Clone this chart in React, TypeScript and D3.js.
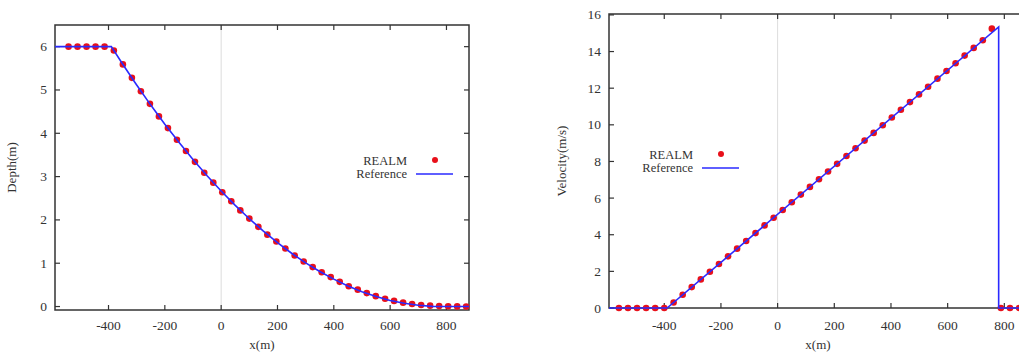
import { useEffect, useRef } from 'react';
import * as d3 from 'd3';

// REALM depth samples (left panel)
const depthX = [-542, -510, -478, -446, -414, -381, -349, -317, -285, -253, -221, -189, -157, -125, -93, -60, -28, 4, 36, 68, 100, 132, 164, 196, 228, 261, 293, 325, 357, 389, 421, 453, 485, 517, 549, 582, 614, 646, 678, 710, 742, 774, 806, 838, 870];
const depthH = [6, 6, 6, 6, 6, 5.91, 5.59, 5.28, 4.97, 4.68, 4.39, 4.12, 3.85, 3.59, 3.34, 3.09, 2.86, 2.64, 2.43, 2.22, 2.03, 1.84, 1.66, 1.5, 1.34, 1.18, 1.04, 0.91, 0.79, 0.68, 0.57, 0.47, 0.39, 0.31, 0.24, 0.18, 0.13, 0.09, 0.06, 0.035, 0.02, 0.01, 0.005, 0.003, 0.002];

// analytic reference depth
const depthRefX = [-590, -390, -350, -300, -250, -200, -150, -100, -50, 0, 50, 100, 150, 200, 250, 300, 350, 400, 450, 500, 550, 600, 650, 700, 750, 780, 880];
const depthRefH = [6, 6, 5.6, 5.115, 4.651, 4.211, 3.792, 3.395, 3.02, 2.667, 2.336, 2.026, 1.739, 1.474, 1.23, 1.009, 0.809, 0.632, 0.476, 0.343, 0.231, 0.141, 0.074, 0.028, 0.004, 0, 0];

// REALM velocity samples (right panel)
const velX = [-560, -528, -496, -464, -432, -400, -367, -335, -303, -271, -239, -207, -175, -143, -111, -78, -46, -14, 18, 50, 82, 114, 146, 178, 210, 243, 275, 307, 339, 371, 403, 435, 467, 499, 531, 564, 596, 628, 660, 692, 724, 756, 788, 820, 852];
const velV = [0, 0, 0, 0, 0, 0, 0.3, 0.72, 1.14, 1.56, 1.98, 2.4, 2.82, 3.24, 3.66, 4.09, 4.51, 4.93, 5.35, 5.77, 6.19, 6.61, 7.03, 7.45, 7.87, 8.3, 8.72, 9.14, 9.56, 9.98, 10.4, 10.82, 11.24, 11.66, 12.08, 12.52, 12.94, 13.36, 13.78, 14.2, 14.62, 15.25, 0, 0, 0];

// analytic reference velocity
const velRefX = [-595, -390, 780, 780, 880];
const velRefV = [0, 0, 15.34, 0, 0];

const xTicks = [-400, -200, 0, 200, 400, 600, 800];
const depthTicks = [0, 1, 2, 3, 4, 5, 6];
const velTicks = [0, 2, 4, 6, 8, 10, 12, 14, 16];

const FONT = '"Liberation Serif", "Times New Roman", Times, serif';
const INK = '#333';

interface Panel {
    left: number; right: number; top: number; bottom: number;
    xDomain: [number, number]; yDomain: [number, number];
    yTicks: number[]; yLabel: string; yLabelX: number;
    px: number[]; py: number[]; rx: number[]; ry: number[];
    legendX: number; legendY: number;
}

const App = () => {
    const ref = useRef<SVGSVGElement>(null);

    useEffect(() => {
        document.body.style.margin = '0';
        if (!ref.current) return;
        const svg = d3.select(ref.current);
        svg.selectAll('*').remove();

        const panels: Panel[] = [
            {
                left: 55, right: 469, top: 25, bottom: 310,
                xDomain: [-590, 880], yDomain: [-0.08, 6.5],
                yTicks: depthTicks, yLabel: 'Depth(m)', yLabelX: 16,
                px: depthX, py: depthH, rx: depthRefX, ry: depthRefH,
                legendX: 407, legendY: 161,
            },
            {
                left: 609, right: 1027, top: 14, bottom: 308,
                xDomain: [-595, 880], yDomain: [0, 16.05],
                yTicks: velTicks, yLabel: 'Velocity(m/s)', yLabelX: 566,
                px: velX, py: velV, rx: velRefX, ry: velRefV,
                legendX: 693, legendY: 155,
            },
        ];

        panels.forEach(p => {
            const x = d3.scaleLinear().domain(p.xDomain).range([p.left, p.right]);
            const y = d3.scaleLinear().domain(p.yDomain).range([p.bottom, p.top]);
            const g = svg.append('g');

            // zero line
            g.append('line')
                .attr('x1', x(0)).attr('x2', x(0))
                .attr('y1', p.top).attr('y2', p.bottom)
                .attr('stroke', '#ddd').attr('stroke-width', 1);

            // frame
            g.append('rect')
                .attr('x', p.left).attr('y', p.top)
                .attr('width', p.right - p.left).attr('height', p.bottom - p.top)
                .attr('fill', 'none').attr('stroke', INK).attr('stroke-width', 1.5);

            // x ticks, inward on both sides
            xTicks.forEach(t => {
                g.append('line').attr('x1', x(t)).attr('x2', x(t))
                    .attr('y1', p.bottom).attr('y2', p.bottom - 5)
                    .attr('stroke', INK).attr('stroke-width', 1.2);
                g.append('line').attr('x1', x(t)).attr('x2', x(t))
                    .attr('y1', p.top).attr('y2', p.top + 5)
                    .attr('stroke', INK).attr('stroke-width', 1.2);
                g.append('text')
                    .attr('x', x(t)).attr('y', 330)
                    .attr('text-anchor', 'middle')
                    .style('font-family', FONT).style('font-size', '13.5px').attr('fill', INK)
                    .text(t);
            });

            // y ticks
            p.yTicks.forEach(t => {
                g.append('line').attr('x1', p.left).attr('x2', p.left + 5)
                    .attr('y1', y(t)).attr('y2', y(t))
                    .attr('stroke', INK).attr('stroke-width', 1.2);
                g.append('line').attr('x1', p.right).attr('x2', p.right - 5)
                    .attr('y1', y(t)).attr('y2', y(t))
                    .attr('stroke', INK).attr('stroke-width', 1.2);
                g.append('text')
                    .attr('x', p.left - 8).attr('y', y(t) + 4.5)
                    .attr('text-anchor', 'end')
                    .style('font-family', FONT).style('font-size', '13.5px').attr('fill', INK)
                    .text(t);
            });

            // axis labels
            g.append('text')
                .attr('x', (p.left + p.right) / 2).attr('y', 349)
                .attr('text-anchor', 'middle')
                .style('font-family', FONT).style('font-size', '13px').attr('fill', INK)
                .text('x(m)');
            g.append('text')
                .attr('transform', `translate(${p.yLabelX},${(p.top + p.bottom) / 2}) rotate(-90)`)
                .attr('text-anchor', 'middle')
                .style('font-family', FONT).style('font-size', '13px').attr('fill', INK)
                .text(p.yLabel);

            // REALM points
            g.selectAll('circle.pt')
                .data(p.px.map((d, i) => [d, p.py[i]]))
                .enter()
                .append('circle')
                .attr('class', 'pt')
                .attr('cx', d => x(d[0]))
                .attr('cy', d => y(d[1]))
                .attr('r', 3.3)
                .attr('fill', '#e8101a');

            // reference line
            const line = d3.line<number>()
                .x((d, i) => x(p.rx[i]))
                .y(d => y(d));
            g.append('path')
                .attr('d', line(p.ry))
                .attr('fill', 'none')
                .attr('stroke', '#2a2aff')
                .attr('stroke-width', 1.6);

            // legend
            const lg = g.append('g');
            lg.append('text')
                .attr('x', p.legendX).attr('y', p.legendY + 4)
                .attr('text-anchor', 'end')
                .style('font-family', FONT).style('font-size', '12.5px').attr('fill', INK)
                .text('REALM');
            lg.append('circle')
                .attr('cx', p.legendX + 28).attr('cy', p.legendY - 1)
                .attr('r', 3).attr('fill', '#e8101a');
            lg.append('text')
                .attr('x', p.legendX).attr('y', p.legendY + 17)
                .attr('text-anchor', 'end')
                .style('font-family', FONT).style('font-size', '12.5px').attr('fill', INK)
                .text('Reference');
            lg.append('line')
                .attr('x1', p.legendX + 9).attr('x2', p.legendX + 46)
                .attr('y1', p.legendY + 13).attr('y2', p.legendY + 13)
                .attr('stroke', '#2a2aff').attr('stroke-width', 1.6);
        });
    }, []);

    return (
        <svg ref={ref} width={1019} height={352} style={{ display: 'block', background: '#fff' }} />
    );
};

export default App;
